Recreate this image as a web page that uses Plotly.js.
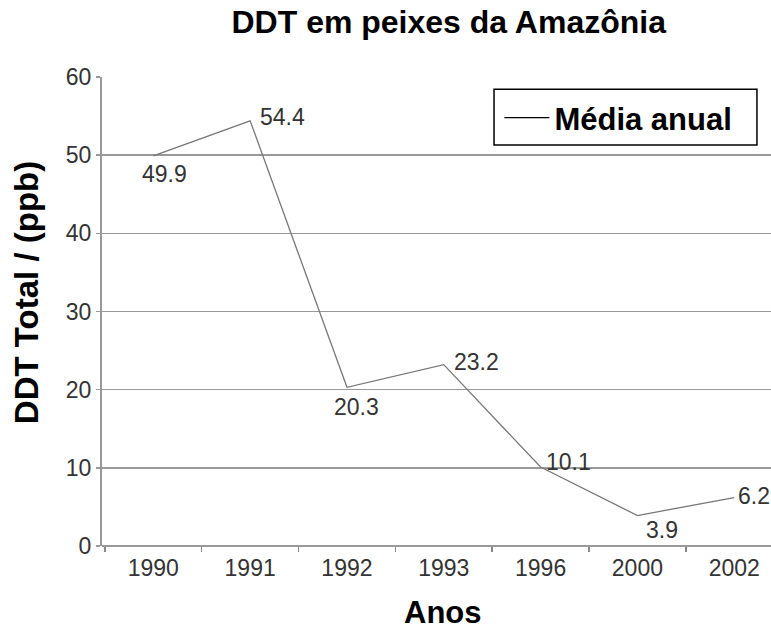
<!DOCTYPE html>
<html>
<head>
<meta charset="utf-8">
<script src="https://cdn.plot.ly/plotly-3.0.1.min.js"></script>
<style>html,body{margin:0;padding:0;background:#fff;}#chart{width:771px;height:632px;}</style>
</head>
<body>
<div id="chart"></div>
<script>
var anos = ['1990', '1991', '1992', '1993', '1996', '2000', '2002'];
var ddt = [49.9, 54.4, 20.3, 23.2, 10.1, 3.9, 6.2];
var rotulos = ['49.9', '54.4', '20.3', '23.2', '10.1', '3.9', '6.2'];
var yTicks = [0, 10, 20, 30, 40, 50, 60];

// label offsets in pixels (style only)
var offX = [11, 32, 10, 33, 28, 25, 20];
var offY = [-18, 4, -20, 3, 5, -14, 2];

var FONT = 'Liberation Sans, Arial, sans-serif';

var trace = {
  x: anos,
  y: ddt,
  type: 'scatter',
  mode: 'lines',
  name: 'Média anual',
  showlegend: false,
  line: {color: '#777', width: 1.3},
  cliponaxis: false
};

// legend-only entry (black sample line), no visible data
var legendTrace = {
  x: [anos[0]],
  y: [null],
  type: 'scatter',
  mode: 'lines',
  name: '<b>Média anual</b>',
  showlegend: true,
  line: {color: '#000', width: 1.3}
};

var annotations = anos.map(function (a, i) {
  return {
    x: i, y: ddt[i], xref: 'x', yref: 'y',
    text: rotulos[i], showarrow: false,
    xanchor: 'center', yanchor: 'middle',
    xshift: offX[i], yshift: offY[i],
    font: {family: FONT, size: 23, color: '#333'}
  };
});

annotations.push({
  xref: 'paper', yref: 'paper', x: -0.113, y: 0.54,
  xanchor: 'center', yanchor: 'middle', textangle: -90,
  text: '<b>DDT Total / (ppb)</b>', showarrow: false,
  font: {family: FONT, size: 33, color: '#000'}
});
annotations.push({
  xref: 'paper', yref: 'paper', x: 0.51, y: -0.142,
  xanchor: 'center', yanchor: 'middle',
  text: '<b>Anos</b>', showarrow: false,
  font: {family: FONT, size: 31, color: '#000'}
});

var layout = {
  width: 771,
  height: 632,
  margin: {l: 102, r: 0, t: 77, b: 86},
  paper_bgcolor: '#fff',
  plot_bgcolor: '#fff',
  font: {family: FONT, color: '#333'},
  title: {
    text: '<b>DDT em peixes da Amazônia</b>',
    font: {size: 32, color: '#000'},
    x: 0.582, xanchor: 'center', y: 0.965, yanchor: 'middle'
  },
  xaxis: {
    type: 'category',
    range: [-0.53, 6.38],
    showgrid: false,
    showline: false,
    ticks: 'outside',
    tickson: 'boundaries',
    ticklen: 5,
    tickwidth: 1.5,
    tickcolor: '#888',
    ticklabelstandoff: 6,
    tickfont: {size: 23, color: '#333'}
  },
  yaxis: {
    range: [0, 60],
    tickvals: yTicks,
    showgrid: true,
    gridcolor: '#999',
    gridwidth: 1.5,
    showline: true,
    linecolor: '#999',
    linewidth: 2,
    zeroline: true,
    zerolinecolor: '#999',
    zerolinewidth: 2,
    ticks: 'outside',
    ticklen: 4,
    tickwidth: 1.5,
    tickcolor: '#999',
    tickfont: {size: 23, color: '#333'}
  },
  showlegend: true,
  legend: {
    x: 0.594, xanchor: 'left',
    y: 0.97, yanchor: 'top',
    bgcolor: 'rgba(0,0,0,0)',
    borderwidth: 0,
    font: {family: FONT, size: 31, color: '#000'},
    itemwidth: 45
  },
  shapes: [{
    type: 'rect', xref: 'paper', yref: 'paper',
    x0: 0.586, x1: 0.979, y0: 0.855, y1: 0.974,
    line: {color: '#000', width: 1.5},
    fillcolor: '#fff', layer: 'below'
  }],
  annotations: annotations
};

Plotly.newPlot('chart', [trace, legendTrace], layout, {displayModeBar: false, staticPlot: true});
</script>
</body>
</html>
